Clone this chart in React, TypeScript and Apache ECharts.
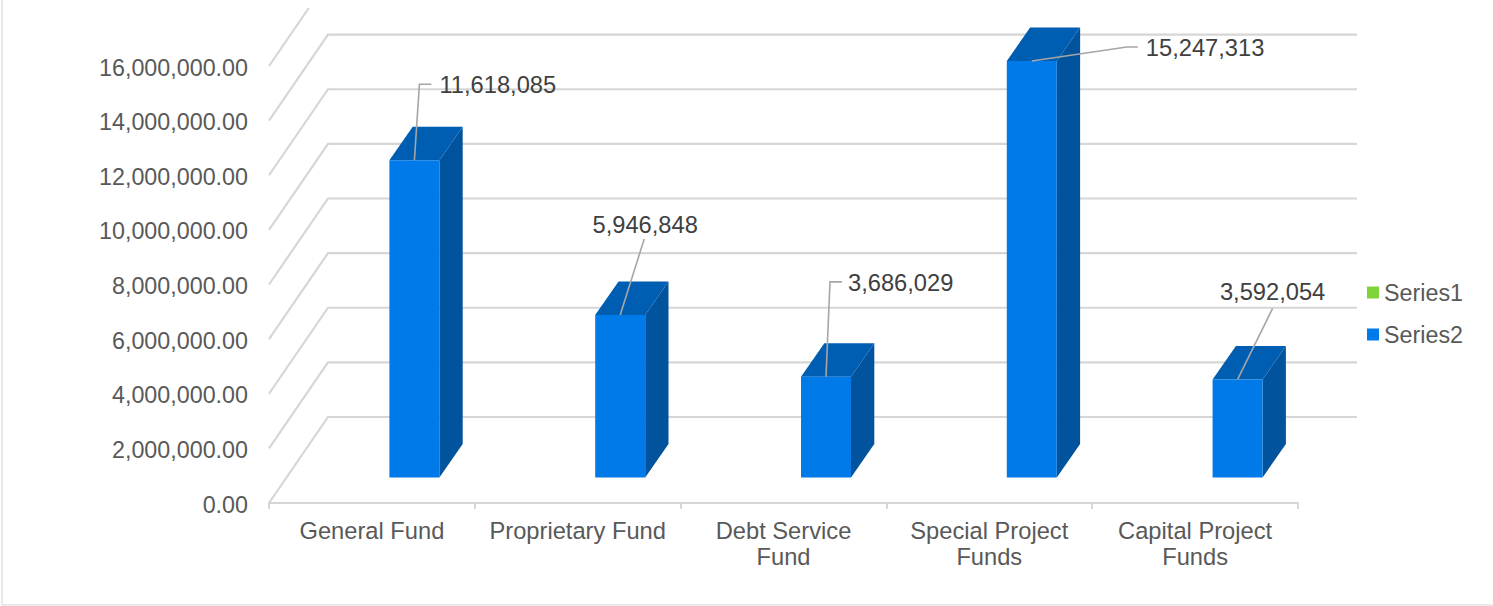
import React, { useEffect, useRef } from "react";
import * as echarts from "echarts";

const categories = ["General Fund", "Proprietary Fund", "Debt Service\nFund", "Special Project\nFunds", "Capital Project\nFunds"];
const series1Values: number[] = [];
const series2Values = [11618085, 5946848, 3686029, 15247313, 3592054];
const valueTicks = [0, 2000000, 4000000, 6000000, 8000000, 10000000, 12000000, 14000000, 16000000];

// Leader geometry for the data labels, as offsets from the bar's front-top centre.
const leaderOffsets = [
  { path: [[5, -76], [17, -76]], text: [25, -75], align: "left" },
  { path: [[24, -76]], text: [25, -90], align: "center" },
  { path: [[4, -95], [16, -95]], text: [22, -94], align: "left" },
  { path: [[95, -14], [106, -14]], text: [114, -13], align: "left" },
  { path: [[35, -71]], text: [35, -87], align: "center" },
];

const FONT = "'Liberation Sans', Arial, sans-serif";
const FONT_SIZE = 23.3;
const LABEL_FONT_SIZE = 23.7;
const GRID_LINE = "#d6d6d6";
const WALL_DX = 59;
const WALL_DY = -86;
const BAR_SHIFT_X = 42.5;
const BAR_SHIFT_Y = -25.5;
const BAR_WIDTH = 50;
const BAR_DX = 23.3;
const BAR_DY = -33.5;
const TOP_CLIP = 8;

const formatTick = (v: number) =>
  v.toLocaleString("en-US", { minimumFractionDigits: 2, maximumFractionDigits: 2 });

const renderWall = (params: any, api: any) => {
  const cs = params.coordSys;
  const y = api.coord([0, api.value(1)])[1];
  const x0 = cs.x;
  const backY = y + WALL_DY;
  const points: number[][] = [[x0, y]];
  if (backY >= TOP_CLIP) {
    points.push([x0 + WALL_DX, backY]);
    points.push([cs.x + cs.width + WALL_DX, backY]);
  } else {
    const t = (y - TOP_CLIP) / -WALL_DY;
    points.push([x0 + WALL_DX * t, TOP_CLIP]);
  }
  return {
    type: "polyline",
    silent: true,
    shape: { points },
    style: { stroke: GRID_LINE, fill: "none", lineWidth: 2.2 },
  };
};

const renderBar = (_params: any, api: any) => {
  const idx = api.value(0);
  const [cx, base] = api.coord([idx, 0]);
  const top = api.coord([idx, api.value(1)])[1];
  const l = cx - BAR_WIDTH / 2 + BAR_SHIFT_X;
  const r = l + BAR_WIDTH;
  const b = base + BAR_SHIFT_Y;
  const t = top + BAR_SHIFT_Y;
  return {
    type: "group",
    silent: true,
    children: [
      {
        type: "polygon",
        shape: { points: [[r, t], [r + BAR_DX, t + BAR_DY], [r + BAR_DX, b + BAR_DY], [r, b]] },
        style: { fill: "#00539c" },
      },
      {
        type: "polygon",
        shape: { points: [[l, t], [l + BAR_DX, t + BAR_DY], [r + BAR_DX, t + BAR_DY], [r, t]] },
        style: { fill: "#005eb2" },
      },
      { type: "rect", shape: { x: l, y: t, width: BAR_WIDTH, height: b - t }, style: { fill: "#007ae9" } },
    ],
  };
};

const renderLabel = (_params: any, api: any) => {
  const idx = api.value(0);
  const value = api.value(1);
  const [cx, y] = api.coord([idx, value]);
  const ax = cx + BAR_SHIFT_X;
  const ay = y + BAR_SHIFT_Y;
  const cfg = leaderOffsets[idx];
  const points = [[ax, ay], ...cfg.path.map(([dx, dy]) => [ax + dx, ay + dy])];
  return {
    type: "group",
    silent: true,
    children: [
      { type: "polyline", shape: { points }, style: { stroke: "#a6a6a6", fill: "none", lineWidth: 1.6 } },
      {
        type: "text",
        style: {
          text: value.toLocaleString("en-US"),
          x: ax + cfg.text[0],
          y: ay + cfg.text[1],
          fill: "#404040",
          fontSize: LABEL_FONT_SIZE,
          fontFamily: FONT,
          align: cfg.align,
          verticalAlign: "middle",
        },
      },
    ],
  };
};

export default function App() {
  const ref = useRef<HTMLDivElement>(null);

  useEffect(() => {
    document.body.style.margin = "0";
    const chart = echarts.init(ref.current!, undefined, { renderer: "svg" });
    const barData = series2Values.map((v, i) => [i, v]);
    chart.setOption({
      animation: false,
      backgroundColor: "#ffffff",
      grid: { left: 269, top: 66, width: 1029, height: 437, containLabel: false },
      legend: {
        orient: "vertical",
        left: 1367,
        top: 281,
        padding: 0,
        itemWidth: 12,
        itemHeight: 12,
        itemGap: 19,
        icon: "rect",
        textStyle: { fontFamily: FONT, fontSize: FONT_SIZE, color: "#595959" },
        data: [
          { name: "Series1", icon: "rect", itemStyle: { color: "#7ed43a" } },
          { name: "Series2", icon: "rect", itemStyle: { color: "#007ae9" } },
        ],
        selectedMode: false,
      },
      xAxis: {
        type: "category",
        data: categories,
        boundaryGap: true,
        axisLine: { lineStyle: { color: GRID_LINE, width: 2.2 } },
        axisTick: { show: true, alignWithLabel: false, length: 6, lineStyle: { color: GRID_LINE, width: 2 } },
        axisLabel: {
          interval: 0,
          margin: 15,
          fontFamily: FONT,
          fontSize: LABEL_FONT_SIZE,
          lineHeight: 26,
          color: "#595959",
        },
      },
      yAxis: {
        type: "value",
        min: valueTicks[0],
        max: valueTicks[valueTicks.length - 1],
        interval: valueTicks[1],
        axisLine: { show: false },
        axisTick: { show: false },
        splitLine: { show: false },
        axisLabel: {
          margin: 21,
          // A short line box anchored at the tick sets the text just below the tick's y.
          verticalAlign: "top",
          lineHeight: 3,
          fontFamily: FONT,
          fontSize: FONT_SIZE,
          color: "#595959",
          formatter: (v: number) => formatTick(v),
        },
      },
      series: [
        {
          name: "walls",
          type: "custom",
          z: 1,
          renderItem: renderWall,
          data: valueTicks.map((t) => [0, t]),
          encode: { x: 0, y: 1 },
        },
        { name: "Series1", type: "bar", data: series1Values, itemStyle: { color: "#7ed43a" } },
        {
          name: "Series2",
          type: "custom",
          z: 2,
          renderItem: renderBar,
          data: barData,
          encode: { x: 0, y: 1 },
          itemStyle: { color: "#007ae9" },
        },
        {
          name: "labels",
          type: "custom",
          z: 3,
          renderItem: renderLabel,
          data: barData,
          encode: { x: 0, y: 1 },
        },
      ],
      graphic: [
        { type: "line", silent: true, shape: { x1: 2, y1: 0, x2: 2, y2: 605 }, style: { stroke: "#e2e2e2", lineWidth: 1.5 } },
        { type: "line", silent: true, shape: { x1: 2, y1: 605, x2: 1493, y2: 605 }, style: { stroke: "#e2e2e2", lineWidth: 1.5 } },
      ],
    });
    return () => chart.dispose();
  }, []);

  return <div ref={ref} style={{ width: 1493, height: 606 }} />;
}
